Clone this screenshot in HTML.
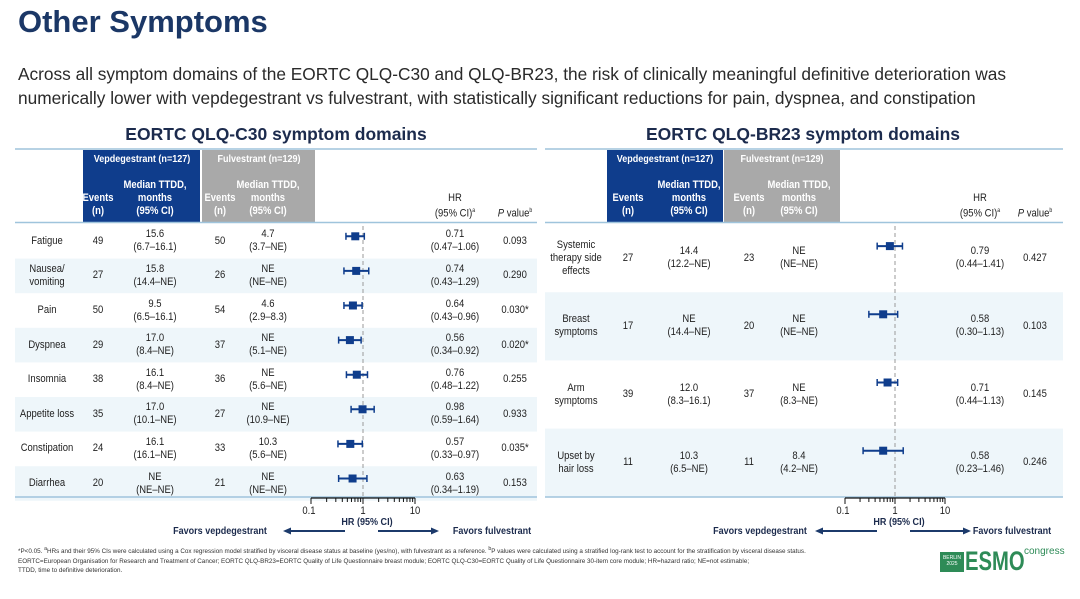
<!DOCTYPE html>
<html><head><meta charset="utf-8"><style>
*{margin:0;padding:0;box-sizing:border-box}
body{width:1080px;height:599px;background:#fff;font-family:"Liberation Sans",sans-serif;position:relative;overflow:hidden;color:#222}
.a{position:absolute}
.c{position:absolute;text-align:center;transform:translateX(-50%) scaleX(0.86);white-space:nowrap;line-height:13px;font-size:11px}
</style></head><body>
<div class="a" style="left:18px;top:4px;font-size:31px;font-weight:bold;color:#1b3766">Other Symptoms</div>
<div class="a" style="left:18px;top:62px;font-size:17.3px;line-height:24px;color:#2a2a2a;width:1060px">Across all symptom domains of the EORTC QLQ-C30 and QLQ-BR23, the risk of clinically meaningful definitive deterioration was numerically lower with vepdegestrant vs fulvestrant, with statistically significant reductions for pain, dyspnea, and constipation</div>
<div class="c" style="left:276px;top:124px;font-size:17.5px;font-weight:bold;color:#1c2b4d;line-height:20px;transform:translateX(-50%)">EORTC QLQ-C30 symptom domains</div>
<div class="c" style="left:803px;top:124px;font-size:17.5px;font-weight:bold;color:#1c2b4d;line-height:20px;transform:translateX(-50%)">EORTC QLQ-BR23 symptom domains</div>
<svg id="s" class="a" style="left:0;top:0" width="1080" height="599"></svg>
<div id="t"></div>
<div class="a" style="left:18px;top:545px;font-size:6.3px;line-height:9.5px;color:#333;width:870px">*P&lt;0.05. <sup>a</sup>HRs and their 95% CIs were calculated using a Cox regression model stratified by visceral disease status at baseline (yes/no), with fulvestrant as a reference. <sup>b</sup>P values were calculated using a stratified log-rank test to account for the stratification by visceral disease status.<br>EORTC=European Organisation for Research and Treatment of Cancer; EORTC QLQ-BR23=EORTC Quality of Life Questionnaire breast module; EORTC QLQ-C30=EORTC Quality of Life Questionnaire 30-item core module; HR=hazard ratio; NE=not estimable;<br>TTDD, time to definitive deterioration.</div>
<div class="a" style="left:940px;top:552px;width:24px;height:20px;background:#2e8b57;color:#fff;font-size:5px;text-align:center;line-height:6px;padding-top:3px">BERLIN<br>2025</div>
<div class="a" style="left:965px;top:547px;font-size:27px;font-weight:bold;color:#2e8b57;line-height:28px;transform:scaleX(0.75);transform-origin:left">ESMO</div>
<div class="a" style="left:1024px;top:546px;font-size:10px;color:#2e8b57">congress</div>
<script>
var S=document.getElementById('s'),T=document.getElementById('t'),svg='',html='';
function txt(x,y,s,extra){html+='<div class="c" style="left:'+x+'px;top:'+y+'px;'+(extra||'')+'">'+s+'</div>';}
function panel(o){
 var L=o.L,R=o.R;
 o.rows.forEach(function(r,i){var y0=o.y0+i*o.rh; if(o.shade(i)) svg+='<rect x="'+L+'" y="'+y0+'" width="'+(R-L)+'" height="'+o.rh+'" fill="#eef6fa"/>';});
 svg+='<rect x="'+o.vx[0]+'" y="150" width="'+(o.vx[1]-o.vx[0])+'" height="72" fill="#0f3d8c"/>';
 svg+='<rect x="'+o.fx[0]+'" y="150" width="'+(o.fx[1]-o.fx[0])+'" height="72" fill="#a9a9a9"/>';
 svg+='<line x1="'+L+'" x2="'+R+'" y1="149" y2="149" stroke="#9fc4dc" stroke-width="1.5"/>';
 svg+='<line x1="'+L+'" x2="'+R+'" y1="222.5" y2="222.5" stroke="#9fc4dc" stroke-width="1.5"/>';
 svg+='<line x1="'+L+'" x2="'+R+'" y1="497" y2="497" stroke="#9fc4dc" stroke-width="1.5"/>';
 var X=function(v){return o.one+o.dec*Math.log10(v);};
 svg+='<line x1="'+o.one+'" x2="'+o.one+'" y1="'+(o.y0+2)+'" y2="497" stroke="#999" stroke-dasharray="4,3"/>';
 var ay=498;
 svg+='<line x1="'+X(0.1)+'" x2="'+X(10)+'" y1="'+ay+'" y2="'+ay+'" stroke="#111" stroke-width="1.3"/>';
 [0.1,0.2,0.3,0.4,0.5,0.6,0.7,0.8,0.9,1,2,3,4,5,6,7,8,9,10].forEach(function(v){var big=(v==0.1||v==1||v==10);svg+='<line x1="'+X(v)+'" x2="'+X(v)+'" y1="'+ay+'" y2="'+(ay+(big?6:4))+'" stroke="#111"/>';});
 txt(X(0.1)-2,505,'0.1');txt(X(1),505,'1');txt(X(10),505,'10');
 txt(o.one+4,516,'HR (95% CI)','color:#1c2b4d;font-weight:bold;font-size:10.5px');
 txt(o.fav1,525,'Favors vepdegestrant','color:#1c2b4d;font-weight:bold;font-size:10.5px');
 txt(o.fav2,525,'Favors fulvestrant','color:#1c2b4d;font-weight:bold;font-size:10.5px');
 svg+='<line x1="'+(o.one-18)+'" x2="'+(o.one-74)+'" y1="531" y2="531" stroke="#1c3a6b" stroke-width="2"/><polygon points="'+(o.one-80)+',531 '+(o.one-72)+',527.5 '+(o.one-72)+',534.5" fill="#1c3a6b"/>';
 svg+='<line x1="'+(o.one+15)+'" x2="'+(o.one+70)+'" y1="531" y2="531" stroke="#1c3a6b" stroke-width="2"/><polygon points="'+(o.one+76)+',531 '+(o.one+68)+',527.5 '+(o.one+68)+',534.5" fill="#1c3a6b"/>';
 var vc=(o.vx[0]+o.vx[1])/2,fc=(o.fx[0]+o.fx[1])/2;
 txt(vc,153,'Vepdegestrant (n=127)','color:#fff;font-weight:bold;font-size:10.5px');
 txt(fc,153,'Fulvestrant (n=129)','color:#fff;font-weight:bold;font-size:10.5px');
 txt(o.c[1],192,'Events<br>(n)','color:#fff;font-weight:bold');
 txt(o.c[2],179,'Median TTDD,<br>months<br>(95% CI)','color:#fff;font-weight:bold');
 txt(o.c[3],192,'Events<br>(n)','color:#fff;font-weight:bold');
 txt(o.c[4],179,'Median TTDD,<br>months<br>(95% CI)','color:#fff;font-weight:bold');
 txt(o.c[5],192,'HR<br>(95% CI)<sup style="font-size:6px">a</sup>','color:#222');
 txt(o.c[6],205,'<i>P</i> value<sup style="font-size:6px">b</sup>','color:#222');
 o.rows.forEach(function(r,i){
  var cy=o.y0+i*o.rh+o.rh/2;
  var n=(r[0].split('<br>').length);
  txt(o.c[0],cy-n*6.5,r[0]);
  txt(o.c[1],cy-6.5,r[1]);txt(o.c[2],cy-13,r[2]);txt(o.c[3],cy-6.5,r[3]);txt(o.c[4],cy-13,r[4]);
  txt(o.c[5],cy-13,r[5]+'<br>('+r[6]+'–'+r[7]+')');txt(o.c[6],cy-6.5,r[8]);
  var py=cy+o.pyo,a=parseFloat(r[6]),b=parseFloat(r[7]),m=parseFloat(r[5]);
  svg+='<line x1="'+X(a)+'" x2="'+X(b)+'" y1="'+py+'" y2="'+py+'" stroke="#0f3d8c" stroke-width="2"/>';
  svg+='<line x1="'+X(a)+'" x2="'+X(a)+'" y1="'+(py-3.5)+'" y2="'+(py+3.5)+'" stroke="#0f3d8c" stroke-width="1.5"/>';
  svg+='<line x1="'+X(b)+'" x2="'+X(b)+'" y1="'+(py-3.5)+'" y2="'+(py+3.5)+'" stroke="#0f3d8c" stroke-width="1.5"/>';
  svg+='<rect x="'+(X(m)-4)+'" y="'+(py-4)+'" width="8" height="8" fill="#0f3d8c"/>';
 });
}
panel({L:15,R:537,vx:[83,200],fx:[202,315],c:[47,98,155,220,268,455,515],one:363,dec:52,y0:224,rh:34.6,pyo:-5,shade:function(i){return i%2==1;},fav1:220,fav2:492,
rows:[
['Fatigue',49,'15.6<br>(6.7–16.1)',50,'4.7<br>(3.7–NE)','0.71','0.47','1.06','0.093'],
['Nausea/<br>vomiting',27,'15.8<br>(14.4–NE)',26,'NE<br>(NE–NE)','0.74','0.43','1.29','0.290'],
['Pain',50,'9.5<br>(6.5–16.1)',54,'4.6<br>(2.9–8.3)','0.64','0.43','0.96','0.030*'],
['Dyspnea',29,'17.0<br>(8.4–NE)',37,'NE<br>(5.1–NE)','0.56','0.34','0.92','0.020*'],
['Insomnia',38,'16.1<br>(8.4–NE)',36,'NE<br>(5.6–NE)','0.76','0.48','1.22','0.255'],
['Appetite loss',35,'17.0<br>(10.1–NE)',27,'NE<br>(10.9–NE)','0.98','0.59','1.64','0.933'],
['Constipation',24,'16.1<br>(16.1–NE)',33,'10.3<br>(5.6–NE)','0.57','0.33','0.97','0.035*'],
['Diarrhea',20,'NE<br>(NE–NE)',21,'NE<br>(NE–NE)','0.63','0.34','1.19','0.153']]});
panel({L:545,R:1063,vx:[607,723],fx:[724,840],c:[576,628,689,749,799,980,1035],one:895,dec:50,y0:224,rh:68.2,pyo:-12,shade:function(i){return i%2==1;},fav1:760,fav2:1012,
rows:[
['Systemic<br>therapy side<br>effects',27,'14.4<br>(12.2–NE)',23,'NE<br>(NE–NE)','0.79','0.44','1.41','0.427'],
['Breast<br>symptoms',17,'NE<br>(14.4–NE)',20,'NE<br>(NE–NE)','0.58','0.30','1.13','0.103'],
['Arm<br>symptoms',39,'12.0<br>(8.3–16.1)',37,'NE<br>(8.3–NE)','0.71','0.44','1.13','0.145'],
['Upset by<br>hair loss',11,'10.3<br>(6.5–NE)',11,'8.4<br>(4.2–NE)','0.58','0.23','1.46','0.246']]});
S.innerHTML=svg;T.innerHTML=html;
</script>
</body></html>
